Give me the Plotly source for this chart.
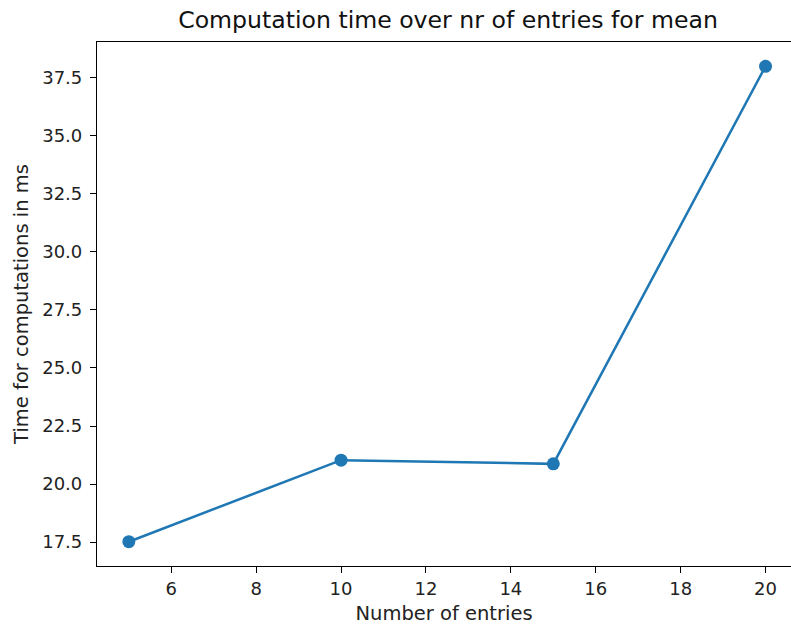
import plotly.graph_objects as go

entries = [5, 10, 15, 20]
times_ms = [17.52, 21.03, 20.87, 37.98]
x_ticks = [6, 8, 10, 12, 14, 16, 18, 20]
y_ticks = [17.5, 20.0, 22.5, 25.0, 27.5, 30.0, 32.5, 35.0, 37.5]

fig = go.Figure()
fig.add_trace(go.Scatter(
    x=entries, y=times_ms, mode="lines+markers",
    line=dict(color="#1f77b4", width=2.5),
    marker=dict(color="#1f77b4", size=13),
))

axis_common = dict(
    showgrid=False, zeroline=False, showline=True, linecolor="#000000", linewidth=1.2,
    ticks="outside", ticklen=6, tickwidth=1.2, tickcolor="#000000",
    tickfont=dict(family="DejaVu Sans", size=18, color="#222222"),
    automargin=False,
)

fig.update_layout(
    width=791, height=625, autosize=False,
    margin=dict(l=97, r=0, t=42, b=59),
    plot_bgcolor="white", paper_bgcolor="white",
    showlegend=False,
    title=dict(text="Computation time over nr of entries for mean",
               x=448 / 791, xanchor="center", y=1 - 20 / 625, yanchor="middle",
               font=dict(family="DejaVu Sans", size=23.6, color="#111111"),
               automargin=False),
    xaxis=dict(axis_common, range=[4.25, 20.6], tickvals=x_ticks,
               ticktext=[str(v) for v in x_ticks], mirror=True,
               ticklabelstandoff=0,
               title=dict(text="Number of entries", standoff=9,
                          font=dict(family="DejaVu Sans", size=19.5, color="#222222"))),
    yaxis=dict(axis_common, range=[16.475, 39.025], tickvals=y_ticks,
               ticktext=[f"{v:.1f}" for v in y_ticks],
               ticklabelstandoff=4,
               title=dict(text="Time for computations in ms", standoff=8,
                          font=dict(family="DejaVu Sans", size=19.5, color="#222222"))),
)

fig.write_html("out.html", config={"displayModeBar": False},
               post_script="document.body.style.margin='0';")
